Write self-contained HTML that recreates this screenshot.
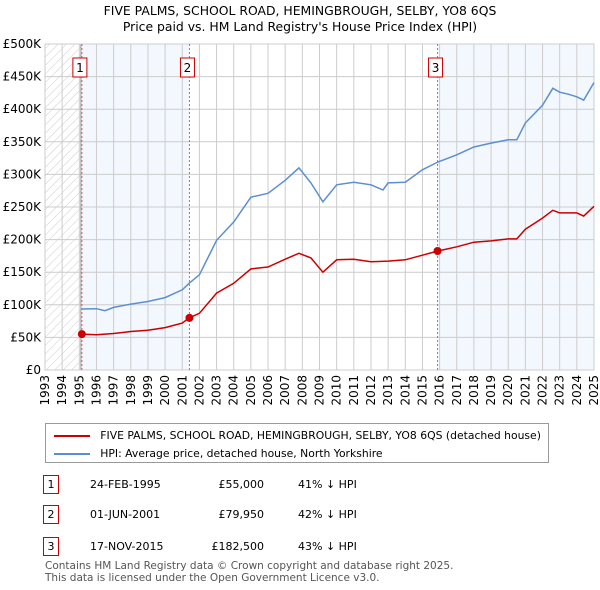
<!DOCTYPE html>
<html><head><meta charset="utf-8"><style>
body{margin:0;background:#fff;font-family:"DejaVu Sans","Liberation Sans",sans-serif;}
#wrap{position:relative;width:600px;height:590px;overflow:hidden}
.t{position:absolute;font-size:12px;color:#000;white-space:nowrap}
svg text{font-family:"DejaVu Sans",sans-serif}
</style></head><body><div id="wrap">
<div class="t" style="left:0;width:600px;text-align:center;top:3px;font-size:12.4px;line-height:16px">FIVE PALMS, SCHOOL ROAD, HEMINGBROUGH, SELBY, YO8 6QS<br>Price paid vs. HM Land Registry's House Price Index (HPI)</div>
<svg id="chart" width="600" height="420" style="position:absolute;left:0;top:0"></svg>
<div style="position:absolute;left:45px;top:423px;width:502px;height:38px;border:1px solid #999;font-size:10.8px">
<div style="position:absolute;left:8px;top:5px;white-space:nowrap"><span style="display:inline-block;width:36px;border-top:2px solid #cc0000;vertical-align:middle"></span>&nbsp;&nbsp;&nbsp;FIVE PALMS, SCHOOL ROAD, HEMINGBROUGH, SELBY, YO8 6QS (detached house)</div>
<div style="position:absolute;left:8px;top:23px;white-space:nowrap"><span style="display:inline-block;width:36px;border-top:2px solid #5b8fd0;vertical-align:middle"></span>&nbsp;&nbsp;&nbsp;HPI: Average price, detached house, North Yorkshire</div>
</div>
<div id="rows"></div>
<div class="t" style="left:45px;top:560px;font-size:10.5px;color:#555;line-height:12px">Contains HM Land Registry data © Crown copyright and database right 2025.<br>This data is licensed under the Open Government Licence v3.0.</div>
</div>
<script>
const hpiYears=[1995.15,1996,1996.5,1997,1998,1999,2000,2001,2001.4,2002,2003,2004,2005,2006,2007,2007.8,2008.5,2009.2,2010,2011,2012,2012.7,2013,2014,2015,2015.9,2017,2018,2019,2020,2020.5,2021,2022,2022.6,2023,2023.5,2024,2024.4,2025];
const hpiValues=[93500,94000,91000,96000,101000,105000,111000,123000,133000,146000,199000,227000,265000,271000,291000,310000,287000,258000,284000,288000,284000,276000,287000,288000,307000,319000,330000,342000,348000,353000,353000,379000,406000,432000,426000,423000,419000,414000,441000];
const ppYears=[1995.15,1996,1997,1998,1999,2000,2001,2001.4,2002,2003,2004,2005,2006,2007,2007.8,2008.5,2009.2,2010,2011,2012,2013,2014,2015,2015.9,2017,2018,2019,2020,2020.5,2021,2022,2022.6,2023,2024,2024.4,2025];
const ppValues=[55000,54000,56000,59000,61000,65000,72000,79950,87000,118000,133000,155000,158000,170000,179000,172000,150000,169000,170000,166000,167000,169000,176000,182500,189000,196000,198000,201000,201000,216000,233000,245000,241000,241000,236000,251000];
const yTicks=[0,50000,100000,150000,200000,250000,300000,350000,400000,450000,500000];
const yTickLabels=["£0","£50K","£100K","£150K","£200K","£250K","£300K","£350K","£400K","£450K","£500K"];
const xTicks=[1993,1994,1995,1996,1997,1998,1999,2000,2001,2002,2003,2004,2005,2006,2007,2008,2009,2010,2011,2012,2013,2014,2015,2016,2017,2018,2019,2020,2021,2022,2023,2024,2025];
const saleYears=[1995.15,2001.42,2015.88];
const saleValues=[55000,79950,182500];
const saleLabels=["1","2","3"];
const saleDates=["24-FEB-1995","01-JUN-2001","17-NOV-2015"];
const salePrices=["£55,000","£79,950","£182,500"];
const saleHpi=["41% ↓ HPI","42% ↓ HPI","43% ↓ HPI"];
const X0=45,X1=594,Y0=370,Y1=44;
const xs=y=>X0+(y-1993)/(2025-1993)*(X1-X0);
const ys=v=>Y0-v/500000*(Y0-Y1);
const NS="http://www.w3.org/2000/svg";
const svg=document.getElementById('chart');
function mk(t,a){const e=document.createElementNS(NS,t);for(const k in a)e.setAttribute(k,a[k]);svg.appendChild(e);return e;}
svg.innerHTML='<defs><pattern id="hat" width="6" height="6" patternUnits="userSpaceOnUse" patternTransform="rotate(45)"><line x1="0" y1="0" x2="0" y2="6" stroke="#ccc" stroke-width="1"/></pattern></defs>';
let e;
e=mk('rect',{x:X0,y:Y1,width:xs(saleYears[0])-X0,height:Y0-Y1,fill:'url(#hat)'});

e=mk('rect',{x:xs(saleYears[0]),y:Y1,width:xs(saleYears[1])-xs(saleYears[0]),height:Y0-Y1,fill:'#f3f7fe'});

e=mk('rect',{x:xs(saleYears[2]),y:Y1,width:X1-xs(saleYears[2]),height:Y0-Y1,fill:'#f3f7fe'});

xTicks.forEach(t=>{e=mk('line',{x1:xs(t),x2:xs(t),y1:Y1,y2:Y0,stroke:'#ccc'});

e=mk('text',{x:xs(t)+4,y:Y0+5,'font-size':12,transform:`rotate(-90 ${xs(t)+4} ${Y0+5})`,'text-anchor':'end'});e.textContent=t;
});
yTicks.forEach((t,i)=>{e=mk('line',{x1:X0,x2:X1,y1:ys(t),y2:ys(t),stroke:'#ccc'});

e=mk('text',{x:X0-4,y:ys(t)+4,'font-size':12,'text-anchor':'end'});e.textContent=yTickLabels[i];
});
e=mk('line',{x1:xs(saleYears[0])-1,x2:xs(saleYears[0])-1,y1:Y1,y2:Y0,stroke:'#999'});

e=mk('rect',{x:X0,y:Y1,width:X1-X0,height:Y0-Y1,fill:'none',stroke:'#ccc'});

saleYears.forEach((s,i)=>{e=mk('line',{x1:xs(s),x2:xs(s),y1:Y1,y2:Y0,stroke:'#e06060','stroke-dasharray':'2,2'});

e=mk('rect',{x:xs(s)-9,y:58,width:14,height:19,fill:'#fff',stroke:'#cc0000'});

e=mk('text',{x:xs(s)-2,y:72,'font-size':12,'text-anchor':'middle'});e.textContent=saleLabels[i];
});
const pts=(a,b)=>a.map((y,i)=>xs(y).toFixed(1)+','+ys(b[i]).toFixed(1)).join(' ');
e=mk('polyline',{points:pts(hpiYears,hpiValues),fill:'none',stroke:'#5b8fd0','stroke-width':1.5});

e=mk('polyline',{points:pts(ppYears,ppValues),fill:'none',stroke:'#cc0000','stroke-width':1.5});

saleYears.forEach((s,i)=>{e=mk('circle',{cx:xs(s),cy:ys(saleValues[i]),r:4,fill:'#cc0000'});
});
const rows=document.getElementById('rows');
const tops=[475,505,537];
saleLabels.forEach((l,i)=>{const d=document.createElement('div');


d.style.cssText=`position:absolute;left:0;top:${tops[i]}px;width:600px;height:20px;font-size:11px`;
d.innerHTML=`<span style="position:absolute;left:43px;top:0;width:14px;height:17px;border:1px solid #cc0000;text-align:center;line-height:17px">${l}</span><span style="position:absolute;left:90px;top:3px">${saleDates[i]}</span><span style="position:absolute;left:180px;width:84px;text-align:right;top:3px">${salePrices[i]}</span><span style="position:absolute;left:298px;top:3px">${saleHpi[i]}</span>`;
rows.appendChild(d);});
</script></body></html>
